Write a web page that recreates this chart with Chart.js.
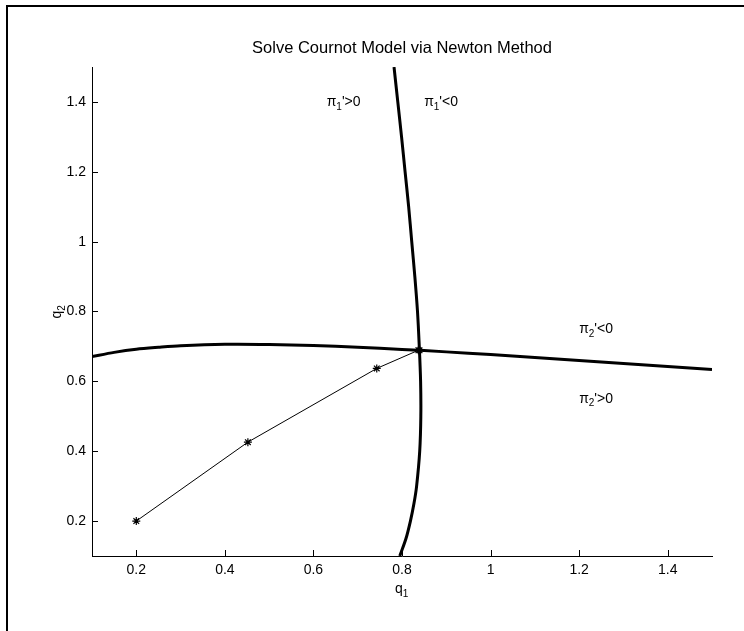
<!DOCTYPE html>
<html>
<head>
<meta charset="utf-8">
<script src="https://cdn.jsdelivr.net/npm/chart.js@4/dist/chart.umd.min.js"></script>
<style>
  html, body { margin: 0; padding: 0; background: #fff; }
  #cournot { display: block; }
</style>
</head>
<body>
<canvas id="cournot" width="744" height="631"></canvas>
<script>
// pi_1' = 0 locus: q1 for each q2
const FOC1_Q2 = [0.1, 0.15, 0.2, 0.25, 0.3, 0.4, 0.5, 0.6, 0.7, 0.8, 0.9, 1.0, 1.1, 1.2, 1.3, 1.4, 1.5];
const FOC1_Q1 = [0.795, 0.809, 0.819, 0.827, 0.833, 0.840, 0.8425, 0.842, 0.839, 0.835, 0.829, 0.822, 0.815, 0.807, 0.799, 0.7905, 0.782];

// pi_2' = 0 locus: q2 for each q1
const FOC2_Q1 = [0.1, 0.15, 0.2, 0.25, 0.3, 0.4, 0.5, 0.6, 0.7, 0.8, 0.9, 1.0, 1.1, 1.2, 1.3, 1.4, 1.5];
const FOC2_Q2 = [0.671, 0.683, 0.692, 0.6975, 0.702, 0.706, 0.7055, 0.7025, 0.6976, 0.6915, 0.6844, 0.6767, 0.6685, 0.660, 0.651, 0.6425, 0.6338];

// Newton iterates
const ITER_Q1 = [0.2, 0.452, 0.743, 0.837, 0.8396];
const ITER_Q2 = [0.2, 0.426, 0.637, 0.689, 0.6888];

const X_TICKS = [0.2, 0.4, 0.6, 0.8, 1, 1.2, 1.4];
const Y_TICKS = [0.2, 0.4, 0.6, 0.8, 1, 1.2, 1.4];

// region labels: [q1, q2, subscript, sign]
const REGION_LABELS = [
    [0.63, 1.4, '1', "'>0"],
    [0.85, 1.4, '1', "'<0"],
    [1.2, 0.75, '2', "'<0"],
    [1.2, 0.55, '2', "'>0"],
];

const TITLE = 'Solve Cournot Model via Newton Method';
const FONT = '"Liberation Sans", Arial, Helvetica, sans-serif';

const pts = (xs, ys) => xs.map((x, i) => ({ x, y: ys[i] }));

// text with a lowered subscript, e.g. q₁ or π₂'>0
function drawSub(ctx, x, y, base, sub, rest, size) {
    ctx.font = size + 'px ' + FONT;
    ctx.fillText(base, x, y);
    let w = ctx.measureText(base).width;
    ctx.font = Math.round(size * 0.72) + 'px ' + FONT;
    ctx.fillText(sub, x + w, y + size * 0.35);
    w += ctx.measureText(sub).width;
    if (rest) {
        ctx.font = size + 'px ' + FONT;
        ctx.fillText(rest, x + w, y);
        w += ctx.measureText(rest).width;
    }
    return w;
}

const matlabDecor = {
    id: 'matlabDecor',
    beforeDraw(chart) {
        const { ctx } = chart;
        ctx.save();
        ctx.fillStyle = '#fff';
        ctx.fillRect(0, 0, chart.width, chart.height);
        // figure frame (top and left edges show in the crop)
        ctx.strokeStyle = '#000';
        ctx.lineWidth = 2;
        ctx.beginPath();
        ctx.moveTo(chart.width, 6);
        ctx.lineTo(7, 6);
        ctx.lineTo(7, chart.height);
        ctx.stroke();
        ctx.restore();
    },
    afterDraw(chart) {
        const { ctx, chartArea: a, scales: { x, y } } = chart;
        ctx.save();
        ctx.strokeStyle = '#000';
        ctx.fillStyle = '#000';
        ctx.lineWidth = 1;
        // inward tick marks
        ctx.beginPath();
        X_TICKS.forEach(v => {
            const px = Math.round(x.getPixelForValue(v)) + 0.5;
            ctx.moveTo(px, a.bottom);
            ctx.lineTo(px, a.bottom - 6);
        });
        Y_TICKS.forEach(v => {
            const py = Math.round(y.getPixelForValue(v)) + 0.5;
            ctx.moveTo(a.left, py);
            ctx.lineTo(a.left + 6, py);
        });
        ctx.stroke();

        // title
        ctx.textBaseline = 'middle';
        ctx.textAlign = 'center';
        ctx.font = '16.5px ' + FONT;
        ctx.fillText(TITLE, (a.left + a.right) / 2, 48);

        // x label
        ctx.textAlign = 'left';
        drawSub(ctx, (a.left + a.right) / 2 - 7, 589, 'q', '1', '', 14);

        // y label, rotated
        ctx.save();
        ctx.translate(57, (a.top + a.bottom) / 2 + 7);
        ctx.rotate(-Math.PI / 2);
        drawSub(ctx, 0, 0, 'q', '2', '', 14);
        ctx.restore();

        // region labels
        REGION_LABELS.forEach(([q1, q2, sub, rest]) => {
            drawSub(ctx, x.getPixelForValue(q1), y.getPixelForValue(q2), 'π', sub, rest, 14);
        });
        ctx.restore();
    },
};

const tickFont = { family: FONT, size: 14 };

new Chart(document.getElementById('cournot'), {
    type: 'scatter',
    data: {
        datasets: [
            {
                data: pts(FOC1_Q1, FOC1_Q2),
                showLine: true, borderColor: '#000', borderWidth: 3,
                pointRadius: 0, tension: 0.3,
            },
            {
                data: pts(FOC2_Q1, FOC2_Q2),
                showLine: true, borderColor: '#000', borderWidth: 3,
                pointRadius: 0, tension: 0.3,
            },
            {
                data: pts(ITER_Q1, ITER_Q2),
                showLine: true, borderColor: '#000', borderWidth: 1,
                pointStyle: 'star', pointRadius: 4, pointBorderWidth: 1.2,
                pointBorderColor: '#000', tension: 0,
            },
        ],
    },
    options: {
        responsive: false,
        animation: false,
        devicePixelRatio: 1,
        layout: { padding: { left: 0, right: 32, top: 67, bottom: 0 } },
        plugins: { legend: { display: false }, tooltip: { enabled: false } },
        scales: {
            x: {
                type: 'linear', min: 0.1, max: 1.5,
                afterBuildTicks: s => { s.ticks = X_TICKS.map(v => ({ value: v })); },
                afterFit: s => { s.height = 75; },
                grid: { display: false, drawTicks: false },
                border: { display: true, color: '#000', width: 1 },
                ticks: { color: '#000', font: tickFont, padding: 6, maxRotation: 0, autoSkip: false, callback: v => String(v) },
            },
            y: {
                type: 'linear', min: 0.1, max: 1.5,
                afterBuildTicks: s => { s.ticks = Y_TICKS.map(v => ({ value: v })); },
                afterFit: s => { s.width = 92; },
                grid: { display: false, drawTicks: false },
                border: { display: true, color: '#000', width: 1 },
                ticks: { color: '#000', font: tickFont, padding: 6, autoSkip: false, callback: v => String(v) },
            },
        },
    },
    plugins: [matlabDecor],
});
</script>
</body>
</html>
